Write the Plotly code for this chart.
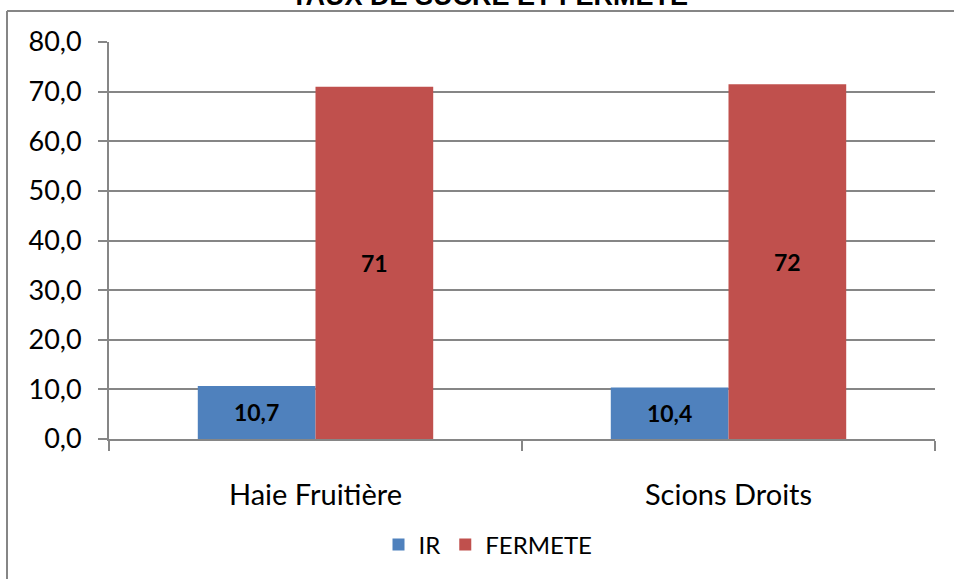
import plotly.graph_objects as go

categories = ["Haie Fruitière", "Scions Droits"]
ir_values = [10.7, 10.4]
ir_labels = ["10,7", "10,4"]
fermete_values = [71.0, 71.5]
fermete_labels = ["71", "72"]
title_text = "TAUX DE SUCRE ET FERMETE"

W, H = 954, 579
L, R, T, B = 109, 19, 42, 140
pw, ph = W - L - R, H - T - B

def px_x(x):
    return (x - L) / pw

def px_y(y):
    return (H - B - y) / ph

font_main = "Lato, 'Open Sans', sans-serif"

fig = go.Figure()
fig.add_trace(go.Bar(
    name="IR", x=categories, y=ir_values, text=ir_labels,
    marker=dict(color="#4F81BD", line=dict(width=0)),
    textposition="inside", insidetextanchor="middle",
    textfont=dict(family=font_main, size=23, color="black", weight="bold"),
    textangle=0,
))
fig.add_trace(go.Bar(
    name="FERMETE", x=categories, y=fermete_values, text=fermete_labels,
    marker=dict(color="#C0504D", line=dict(width=0)),
    textposition="inside", insidetextanchor="middle",
    textfont=dict(family=font_main, size=23, color="black", weight="bold"),
    textangle=0,
))

fig.update_layout(
    width=W, height=H,
    margin=dict(l=L, r=R, t=T, b=B, pad=0),
    paper_bgcolor="white", plot_bgcolor="white",
    barmode="group", bargap=0.43, bargroupgap=0,
    separators=", ",
    uniformtext=dict(minsize=8, mode="show"),
    showlegend=True,
    legend=dict(orientation="h", x=px_x(488), xanchor="center", y=px_y(545), yanchor="middle",
                font=dict(family=font_main, size=24, color="black"),
                traceorder="normal"),
    xaxis=dict(
        type="category", tickson="boundaries", ticks="outside", ticklen=10,
        tickcolor="#868686", tickwidth=2,
        showline=True, linecolor="#868686", linewidth=2,
        showgrid=False,
        tickfont=dict(family=font_main, size=29, color="black"),
        ticklabelstandoff=29,
    ),
    yaxis=dict(
        range=[0, 80], dtick=10, tickformat=".1f",
        ticks="outside", ticklen=9, tickcolor="#868686", tickwidth=2,
        showline=True, linecolor="#868686", linewidth=2,
        showgrid=True, gridcolor="#868686", gridwidth=2,
        zeroline=False,
        tickfont=dict(family=font_main, size=27, color="black"),
        ticklabelstandoff=11,
    ),
    shapes=[
        dict(type="line", xref="paper", yref="paper",
             x0=px_x(7), y0=px_y(11), x1=px_x(W + 5), y1=px_y(11),
             line=dict(color="#868686", width=2)),
        dict(type="line", xref="paper", yref="paper",
             x0=px_x(7), y0=px_y(11), x1=px_x(7), y1=px_y(H + 5),
             line=dict(color="#868686", width=2)),
    ],
    annotations=[
        dict(text=title_text, xref="paper", yref="paper",
             x=px_x(489), y=px_y(13), xanchor="center", yanchor="bottom",
             showarrow=False,
             font=dict(family="Liberation Sans, Arial, sans-serif", size=27, color="black", weight="bold")),
    ],
)

fig.write_html("out.html", config={"displayModeBar": False},
               post_script="document.body.style.margin='0';")
